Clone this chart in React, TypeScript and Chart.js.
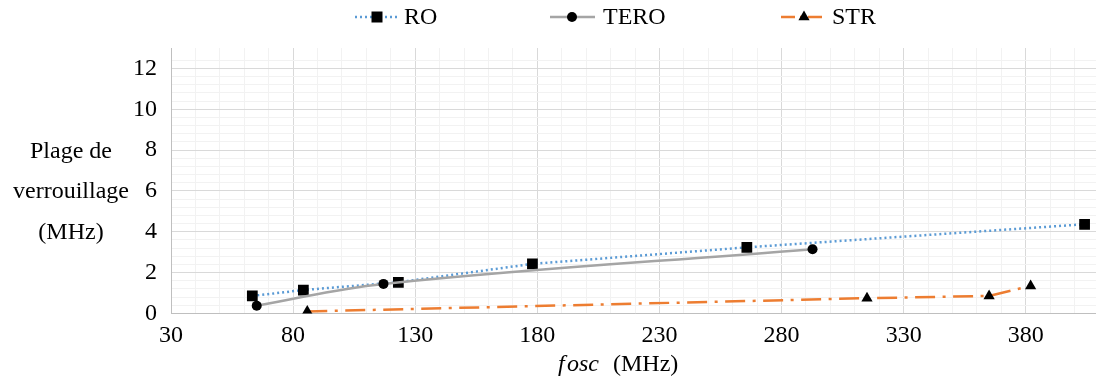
import React, { useEffect, useRef } from "react";
import { Chart, registerables } from "chart.js";

Chart.register(...registerables);

const roX = [63.3, 84.2, 123.1, 178, 265.8, 404.1];
const roY = [0.86, 1.15, 1.53, 2.43, 3.24, 4.37];
const teroX = [65.1, 117, 292.7];
const teroY = [0.38, 1.45, 3.15];
const strX = [85.8, 315, 365, 382];
const strY = [0.1, 0.75, 0.86, 1.35];

const seriesNames = ["RO", "TERO", "STR"];
const xMajorLabels = [30, 80, 130, 180, 230, 280, 330, 380];
const yMajorLabels = [0, 2, 4, 6, 8, 10, 12];
const yTitleLines = ["Plage de", "verrouillage", "(MHz)"];
const xTitleMath = "fosc";
const xTitleUnit = "(MHz)";

const FONT = "'Liberation Serif', 'Times New Roman', serif";
const BLUE = "#5B9BD5";
const GRAY = "#A5A5A5";
const ORANGE = "#ED7D31";

const toPts = (xs: number[], ys: number[]) => xs.map((x, i) => ({ x, y: ys[i] }));
const near = (v: number, arr: number[]) => arr.some((a) => Math.abs(a - v) < 1e-6);

const decorPlugin = {
  id: "decor",
  afterDraw(chart: any) {
    const ctx = chart.ctx as CanvasRenderingContext2D;
    ctx.save();
    ctx.fillStyle = "#000";
    ctx.font = `24px ${FONT}`;
    ctx.textAlign = "center";
    ctx.textBaseline = "alphabetic";
    const baselines = [158, 198, 239];
    yTitleLines.forEach((t, i) => ctx.fillText(t, 71, baselines[i]));

    // x title
    ctx.textAlign = "left";
    ctx.font = `italic 24px ${FONT}`;
    ctx.fillText(xTitleMath.slice(0, 1), 558, 371);
    ctx.fillText(xTitleMath.slice(1), 567, 371);
    ctx.font = `24px ${FONT}`;
    ctx.fillText(xTitleUnit, 613, 371);

    // legend
    const ly = 17;
    const items = [
      { x0: 355, x1: 398, mx: 377, tx: 404, color: BLUE, dash: [2, 3], marker: "rect" },
      { x0: 550, x1: 595, mx: 572, tx: 603, color: GRAY, dash: [], marker: "circle" },
      { x0: 781, x1: 827, mx: 804, tx: 832, color: ORANGE, dash: [14, 5, 3, 5], marker: "triangle" },
    ];
    items.forEach((it, i) => {
      ctx.beginPath();
      ctx.setLineDash(it.dash);
      ctx.strokeStyle = it.color;
      ctx.lineWidth = 2.5;
      ctx.moveTo(it.x0, ly);
      ctx.lineTo(it.x1, ly);
      ctx.stroke();
      ctx.setLineDash([]);
      ctx.fillStyle = "#000";
      ctx.beginPath();
      if (it.marker === "rect") {
        ctx.rect(it.mx - 5.5, ly - 5.5, 11, 11);
      } else if (it.marker === "circle") {
        ctx.arc(it.mx, ly, 5, 0, Math.PI * 2);
      } else {
        ctx.moveTo(it.mx, ly - 6.5);
        ctx.lineTo(it.mx + 5.6, ly + 3.3);
        ctx.lineTo(it.mx - 5.6, ly + 3.3);
        ctx.closePath();
      }
      ctx.fill();
      ctx.font = `24px ${FONT}`;
      ctx.textAlign = "left";
      ctx.textBaseline = "middle";
      ctx.fillText(seriesNames[i], it.tx, ly + 1);
    });
    ctx.restore();
  },
};

export default function App() {
  const ref = useRef<HTMLCanvasElement | null>(null);
  useEffect(() => {
    let chart: any = null;
    let cancelled = false;
    const build = () => {
      if (cancelled || !ref.current) return;
      chart = new Chart(ref.current, {
        type: "scatter",
        data: {
          datasets: [
            {
              label: seriesNames[0],
              data: toPts(roX, roY),
              showLine: true,
              borderColor: BLUE,
              borderWidth: 2.5,
              borderDash: [2, 3],
              pointStyle: "rect",
              pointRadius: 7.6,
              pointBackgroundColor: "#000",
              pointBorderWidth: 0,
              tension: 0,
              order: 3,
            },
            {
              label: seriesNames[1],
              data: toPts(teroX, teroY),
              showLine: true,
              borderColor: GRAY,
              borderWidth: 2.5,
              pointStyle: "circle",
              pointRadius: 5,
              pointBackgroundColor: "#000",
              pointBorderWidth: 0,
              tension: 0.4,
              order: 2,
            },
            {
              label: seriesNames[2],
              data: toPts(strX, strY),
              showLine: true,
              borderColor: ORANGE,
              borderWidth: 2.5,
              borderDash: [20, 7.5, 3, 7.5],
              pointStyle: "triangle",
              pointRadius: 6.5,
              pointBackgroundColor: "#000",
              pointBorderWidth: 0,
              tension: 0,
              order: 1,
            },
          ],
        },
        options: {
          animation: false,
          responsive: false,
          maintainAspectRatio: false,
          layout: { autoPadding: false, padding: { top: 48, left: 0, right: 0, bottom: 0 } },
          plugins: { legend: { display: false }, tooltip: { enabled: false } },
          scales: {
            x: {
              type: "linear",
              min: 30,
              max: 410,
              afterFit: (s: any) => {
                s.height = 69.5;
              },
              ticks: {
                stepSize: 10,
                autoSkip: false,
                maxRotation: 0,
                padding: 8,
                color: "#000",
                font: { family: FONT, size: 24 },
                callback: (v: any) => (near(Number(v), xMajorLabels) ? String(Math.round(Number(v))) : ""),
              },
              grid: {
                drawTicks: false,
                color: (c: any) => ((Math.round(c.tick.value) - 30) % 50 === 0 ? "#d9d9d9" : "#f2f2f2"),
                lineWidth: 1,
              },
              border: { color: "#bfbfbf", width: 1 },
            },
            y: {
              type: "linear",
              min: 0,
              max: 13,
              afterFit: (s: any) => {
                s.width = 171;
              },
              ticks: {
                stepSize: 0.4,
                autoSkip: false,
                padding: 14,
                color: "#000",
                font: { family: FONT, size: 24 },
                callback: (v: any) => {
                  const n = Number(v);
                  const r = Math.round(n);
                  return Math.abs(n - r) < 1e-6 && near(r, yMajorLabels) ? String(r) : "";
                },
              },
              grid: {
                drawTicks: false,
                color: (c: any) => {
                  const n = c.tick.value;
                  if (Math.abs(n - 13) < 1e-6) return "rgba(0,0,0,0)";
                  const r = Math.round(n);
                  return Math.abs(n - r) < 1e-6 && r % 2 === 0 ? "#d9d9d9" : "#f2f2f2";
                },
                lineWidth: 1,
              },
              border: { color: "#bfbfbf", width: 1 },
            },
          },
        },
        plugins: [decorPlugin],
      } as any);
    };
    const fonts: any = (document as any).fonts;
    if (fonts && fonts.load) {
      Promise.all([
        fonts.load(`24px "Liberation Serif"`),
        fonts.load(`italic 24px "Liberation Serif"`),
      ])
        .catch(() => null)
        .then(build);
    } else {
      build();
    }
    return () => {
      cancelled = true;
      if (chart) chart.destroy();
    };
  }, []);
  return (
    <div style={{ position: "fixed", left: 0, top: 0, width: 1096, height: 383, overflow: "hidden", background: "#fff" }}>
      <canvas ref={ref} width={1107} height={383} style={{ display: "block", width: 1107, height: 383 }} />
    </div>
  );
}
